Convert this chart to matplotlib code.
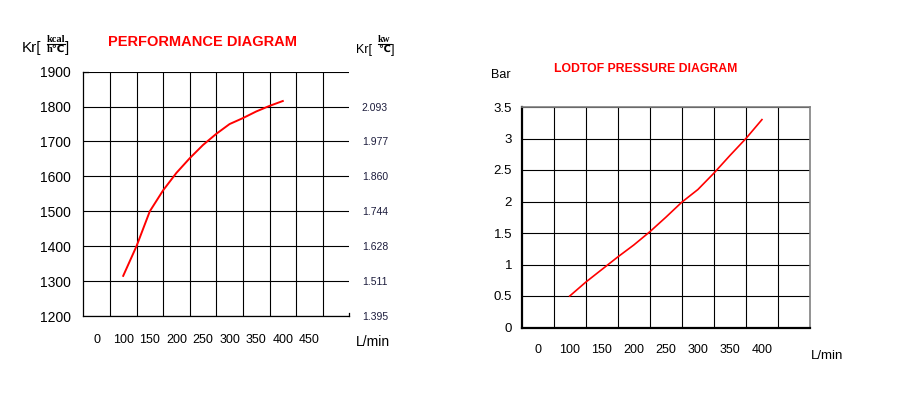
import matplotlib
matplotlib.use('Agg')
import matplotlib.pyplot as plt
from matplotlib.lines import Line2D

# flow rate (L/min) vs heat dissipation / pressure drop
flow = [100, 125, 150, 175, 200, 225, 250, 275, 300, 325, 350, 375, 400]
kr_kcal = [1315, 1400, 1500, 1560, 1610, 1652, 1690, 1722, 1750, 1767, 1786, 1802, 1816]
pressure = [0.50, 0.72, 0.92, 1.12, 1.31, 1.52, 1.75, 1.99, 2.19, 2.45, 2.73, 3.00, 3.30]

left_xlabels = ['0', '100', '150', '200', '250', '300', '350', '400', '450']
right_xlabels = ['0', '100', '150', '200', '250', '300', '350', '400']
kcal_ticks = [1200, 1300, 1400, 1500, 1600, 1700, 1800, 1900]
kw_labels = ['1.395', '1.511', '1.628', '1.744', '1.860', '1.977', '2.093']
bar_ticks = [0, 0.5, 1, 1.5, 2, 2.5, 3, 3.5]
bar_labels = ['0', '0.5', '1', '1.5', '2', '2.5', '3', '3.5']

W, H = 908, 394
plt.rcParams['font.family'] = ['Liberation Sans', 'DejaVu Sans']

fig = plt.figure(figsize=(W / 100, H / 100), dpi=100)


def fx(x):
    return x / W


def fy(y):
    return 1 - y / H


def unit_frac(fig, x, y, top, bottom, size, w):
    # small stacked unit like kcal / h℃
    fig.text(fx(x), fy(y - 5), top, fontsize=size, ha='center', va='center',
             family=['Liberation Serif', 'DejaVu Sans'], fontweight='bold')
    fig.text(fx(x), fy(y + 5.5), bottom, fontsize=size, ha='center', va='center',
             family=['Liberation Serif', 'DejaVu Sans'], fontweight='bold')
    fig.add_artist(Line2D([fx(x - w / 2), fx(x + w / 2)], [fy(y), fy(y)],
                          color='black', lw=0.8, transform=fig.transFigure))


# ---- left: performance diagram ----
ax = fig.add_axes([fx(83.3), fy(316), fx(349.3) - fx(83.3), fy(71.7) - fy(316)])
ax.plot(flow, kr_kcal, color='red', lw=1.4, zorder=3)
ax.set_xlim(25, 525)
ax.set_ylim(1200, 1900)
ax.set_xticks([50] + list(range(100, 451, 50)))
ax.set_xticklabels(left_xlabels)
ax.set_yticks(kcal_ticks)
ax.set_xticks(range(75, 500, 50), minor=True)
ax.grid(True, which='minor', axis='x', color='black', lw=0.8)
ax.grid(True, which='major', axis='y', color='black', lw=0.8)
ax.tick_params(which='both', length=0)
ax.tick_params(axis='x', pad=13, labelsize=9)
ax.tick_params(axis='y', pad=9, labelsize=10)
for s in ['left', 'bottom']:
    ax.spines[s].set_linewidth(0.9)
ax.spines['top'].set_bounds(25, 33)
ax.spines['right'].set_bounds(1200, 1208)
ax.spines['top'].set_linewidth(0.9)
ax.spines['right'].set_linewidth(0.9)

ax2 = ax.twinx()
ax2.set_ylim(1200, 1900)
ax2.set_yticks(kcal_ticks[:-1])
ax2.set_yticklabels(kw_labels, color='#1c1c3c')
ax2.tick_params(length=0, pad=9, labelsize=7.5)
for s in ax2.spines.values():
    s.set_visible(False)

fig.text(fx(202), fy(42), 'PERFORMANCE DIAGRAM', color='red', fontsize=10.5,
         fontweight='bold', ha='center', va='center')
fig.text(fx(22), fy(48), 'Kr[', fontsize=11, ha='left', va='center')
unit_frac(fig, 56, 44, 'kcal', 'h℃', 7.5, 18)
fig.text(fx(65), fy(48), ']', fontsize=11, ha='left', va='center')
fig.text(fx(356), fy(50), 'Kr[', fontsize=9, ha='left', va='center')
unit_frac(fig, 384, 44, 'kw', '℃', 7, 13)
fig.text(fx(391), fy(50), ']', fontsize=9, ha='left', va='center')
fig.text(fx(373), fy(342), 'L/min', fontsize=10, ha='center', va='center')

# ---- right: loss of pressure diagram ----
bx = fig.add_axes([fx(521.7), fy(327.5), fx(810) - fx(521.7), fy(107) - fy(327.5)])
bx.plot(flow, pressure, color='red', lw=1.2, zorder=3)
bx.set_xlim(25, 475)
bx.set_ylim(0, 3.5)
bx.set_xticks(range(50, 401, 50))
bx.set_xticklabels(right_xlabels)
bx.set_yticks(bar_ticks)
bx.set_yticklabels(bar_labels)
bx.set_xticks(range(75, 450, 50), minor=True)
bx.grid(True, which='minor', axis='x', color='black', lw=0.8)
bx.grid(True, which='major', axis='y', color='black', lw=0.8)
bx.tick_params(which='both', length=0)
bx.tick_params(axis='x', pad=12, labelsize=9)
bx.tick_params(axis='y', pad=7, labelsize=9.5)
bx.spines['left'].set_linewidth(1.6)
bx.spines['bottom'].set_linewidth(1.6)
bx.spines['top'].set_color('#808080')
bx.spines['right'].set_color('#808080')
bx.spines['top'].set_linewidth(1.2)
bx.spines['right'].set_linewidth(1.2)

fig.text(fx(646), fy(69), 'LODTOF PRESSURE DIAGRAM', color='red', fontsize=8.8,
         fontweight='bold', ha='center', va='center')
fig.text(fx(501), fy(75), 'Bar', fontsize=9, ha='center', va='center')
fig.text(fx(827), fy(356), 'L/min', fontsize=9.5, ha='center', va='center')

fig.savefig('out.png', dpi=100)
